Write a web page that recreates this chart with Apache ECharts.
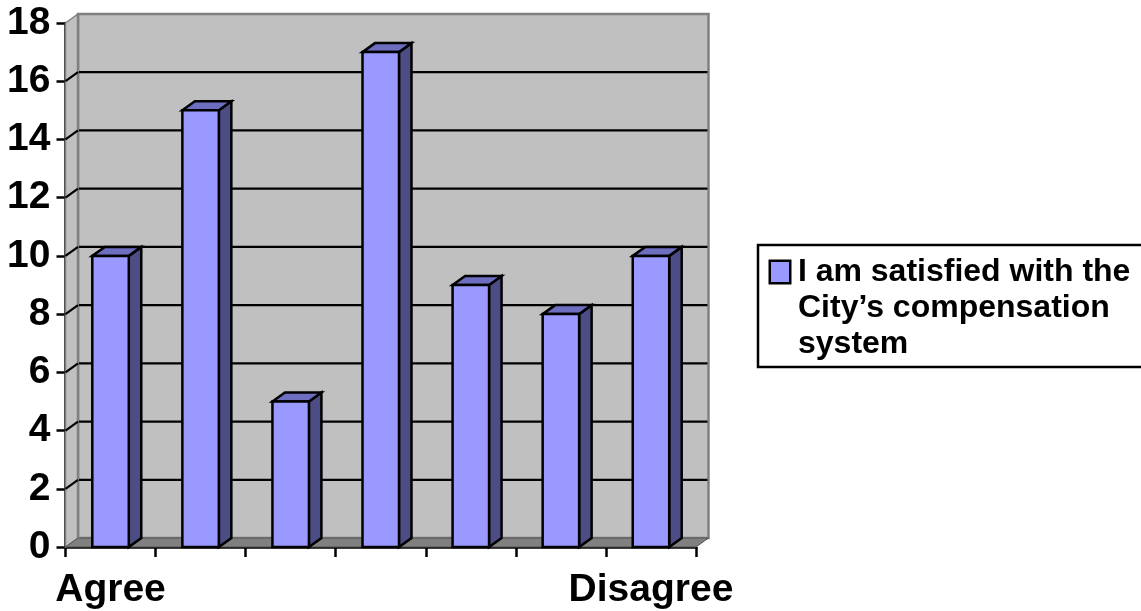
<!DOCTYPE html>
<html>
<head>
<meta charset="utf-8">
<style>html,body{margin:0;padding:0;background:#fff}#c{width:1141px;height:611px}</style>
<script src="https://cdn.jsdelivr.net/npm/echarts@6/dist/echarts.min.js"></script>
</head>
<body>
<div id="c"></div>
<script>
const categories = ['Agree', '', '', '', '', '', 'Disagree'];
const values = [10, 15, 5, 17, 9, 8, 10];
const gridTicks = [2, 4, 6, 8, 10, 12, 14, 16];
const seriesName = 'I am satisfied with the City\u2019s compensation system';
const FONT = '"Liberation Sans", Arial, sans-serif';
const DX = 12.5, DY = -9;
const BAR_RATIO = 0.405;
const YMAX = 18;

function poly(points, fill, stroke, lw) {
  return { type: 'polygon', shape: { points }, style: { fill, stroke, lineWidth: lw, lineJoin: 'miter' } };
}
function seg(a, b, stroke, lw) {
  return { type: 'line', shape: { x1: a[0], y1: a[1], x2: b[0], y2: b[1] }, style: { stroke, lineWidth: lw } };
}
function bounds(api) {
  const band = api.size([1, 0])[0];
  const x0 = api.coord([0, 0])[0] - band / 2;
  const x1 = api.coord([categories.length - 1, 0])[0] + band / 2;
  return { x0, x1, y0: api.coord([0, 0])[1], yT: api.coord([0, YMAX])[1] };
}
function renderWalls(params, api) {
  const b = bounds(api);
  const wall = '#C0C0C0', edge = '#808080';
  return { type: 'group', children: [
    poly([[b.x0 + DX, b.yT + DY], [b.x1 + DX, b.yT + DY], [b.x1 + DX, b.y0 + DY], [b.x0 + DX, b.y0 + DY]], wall, edge, 2.5),
    poly([[b.x0, b.yT], [b.x0 + DX, b.yT + DY], [b.x0 + DX, b.y0 + DY], [b.x0, b.y0]], wall, edge, 1.5),
    poly([[b.x0, b.y0], [b.x0 + DX, b.y0 + DY], [b.x1 + DX, b.y0 + DY], [b.x1, b.y0]], edge, '#555555', 1),
    seg([b.x0 + DX, b.yT + DY], [b.x0 + DX, b.y0 + DY], edge, 2.5)
  ] };
}
function renderGrid(params, api) {
  const b = bounds(api);
  const y = api.coord([0, api.value(0)])[1];
  return { type: 'group', children: [
    seg([b.x0, y], [b.x0 + DX, y + DY], '#000', 2.2),
    seg([b.x0 + DX + 1, y + DY], [b.x1 + DX - 1, y + DY], '#000', 2.2)
  ] };
}
function renderBar(params, api) {
  const idx = api.value(0);
  const top = api.coord([idx, api.value(1)]);
  const base = api.coord([idx, 0]);
  const w = api.size([1, 0])[0] * BAR_RATIO;
  const l = top[0] - w / 2, r = top[0] + w / 2;
  const t = top[1], bt = base[1];
  return { type: 'group', children: [
    poly([[r, t], [r + DX, t + DY], [r + DX, bt + DY], [r, bt]], '#4D4D85', '#000', 2.5),
    poly([[l, t], [l + DX, t + DY], [r + DX, t + DY], [r, t]], '#6E6EC0', '#000', 2.5),
    poly([[l, t], [r, t], [r, bt], [l, bt]], '#9999FF', '#000', 2.5)
  ] };
}

const chart = echarts.init(document.getElementById('c'));
chart.setOption({
  animation: false,
  backgroundColor: '#fff',
  grid: { left: 65.5, right: 445, top: 23, bottom: 64, containLabel: false },
  xAxis: {
    type: 'category', data: categories,
    axisLine: { show: true, lineStyle: { color: '#000', width: 2.5 } },
    axisTick: { show: true, length: 10, lineStyle: { color: '#000', width: 2.5 }, alignWithLabel: false },
    axisLabel: { interval: 0, margin: 24, hideOverlap: false, color: '#000', fontFamily: FONT, fontWeight: 'bold', fontSize: 39 }
  },
  yAxis: {
    type: 'value', min: 0, max: YMAX, interval: 2,
    splitLine: { show: false },
    axisLine: { show: true, lineStyle: { color: '#000', width: 2.5 } },
    axisTick: { show: true, length: 9, lineStyle: { color: '#000', width: 2.5 } },
    axisLabel: { margin: 15, padding: [3, 0, 0, 0], color: '#000', fontFamily: FONT, fontWeight: 'bold', fontSize: 39 }
  },
  legend: {
    show: true, data: [seriesName], orient: 'vertical',
    left: 758, top: 245, icon: 'none', itemWidth: 0, itemHeight: 0, itemGap: 0,
    padding: [11, 40, 7, 8],
    borderColor: '#000', borderWidth: 2.5, backgroundColor: '#fff',
    selectedMode: false,
    formatter: () => '{sw|}{t| I am satisfied with the}\n{i|}{t|City\u2019s compensation}\n{i|}{t|system}',
    textStyle: {
      fontFamily: FONT, fontWeight: 'bold', fontSize: 32, color: '#000',
      padding: 0,
      rich: {
        sw: { width: 18, height: 20, backgroundColor: '#9999FF', borderColor: '#000', borderWidth: 2.5 },
        i: { width: 27, height: 20 },
        t: { fontFamily: FONT, fontWeight: 'bold', fontSize: 32, color: '#000', lineHeight: 36 }
      }
    }
  },
  series: [
    { type: 'custom', name: 'walls', silent: true, z: 1, clip: false, data: [[0, 0]], renderItem: renderWalls, encode: { x: 0, y: 1 } },
    { type: 'custom', name: 'grid', silent: true, z: 2, clip: false, data: gridTicks.map(v => [v]), renderItem: renderGrid, encode: { y: 0 } },
    { type: 'custom', name: seriesName, z: 3, clip: false, itemStyle: { color: '#9999FF' },
      data: values.map((v, i) => [i, v]), renderItem: renderBar, encode: { x: 0, y: 1 } }
  ]
});
</script>
</body>
</html>
